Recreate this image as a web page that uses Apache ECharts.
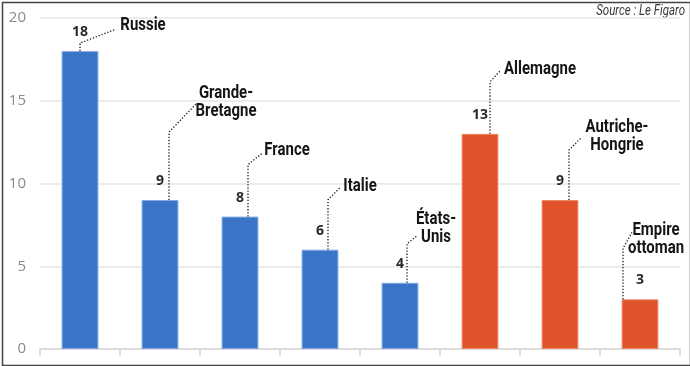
<!DOCTYPE html>
<html>
<head>
<meta charset="utf-8">
<script src="https://cdn.jsdelivr.net/npm/echarts@6/dist/echarts.min.js"></script>
<style>
html,body{margin:0;padding:0;background:#fff;}
#chart{width:690px;height:366px;}
</style>
</head>
<body>
<div id="chart"></div>
<script>
// ---- data ----
const categories = ['Russie', 'Grande-Bretagne', 'France', 'Italie', 'États-Unis', 'Allemagne', 'Autriche-Hongrie', 'Empire ottoman'];
const nameLabels = ['Russie', 'Grande-\nBretagne', 'France', 'Italie', 'États-\nUnis', 'Allemagne', 'Autriche-\nHongrie', 'Empire\nottoman'];
const values = [18, 9, 8, 6, 4, 13, 9, 3];
const camps = ['Entente', 'Entente', 'Entente', 'Entente', 'Entente', 'Centraux', 'Centraux', 'Centraux'];
const yTicks = [0, 5, 10, 15, 20];
const sourceText = 'Source : Le Figaro';

// ---- style / layout (annotation leader offsets relative to bar top, px) ----
const campColors = { Entente: '#3a74c8', Centraux: '#e0522b' };
const campBorders = { Entente: '#7fa9e0', Centraux: '#f08a66' };
// [lineDx, rise, endDx, endDy, labelDx, labelDy]
const leaders = [
  [0, 8, 36, -22, 63, -26],
  [9, 68, 36, -96, 66, -98],
  [8, 52, 23, -64, 47, -66],
  [8, 50, 20, -62, 40, -63],
  [7, 39, 17, -47, 36, -54],
  [10, 52, 21, -64, 60, -64],
  [9, 50, 21, -62, 57, -64],
  [-17, 51, -8, -67, 16, -60]
];
const NAME_FONT = 'bold 18px Roboto, "Noto Sans", sans-serif';
const NAME_SCALE = 0.83;

const chart = echarts.init(document.getElementById('chart'), null, { renderer: 'canvas' });

const barData = values.map((v, i) => ({
  value: v,
  itemStyle: { color: campColors[camps[i]], borderColor: campBorders[camps[i]], borderWidth: 1 }
}));
const annotData = values.map((v, i) => [i, v]);

chart.setOption({
  animation: false,
  backgroundColor: '#ffffff',
  grid: { left: 40, right: 10, top: 18, bottom: 17, containLabel: false },
  xAxis: {
    type: 'category',
    data: categories,
    boundaryGap: true,
    axisLine: { show: true, lineStyle: { color: '#d6d6d6', width: 1.5 } },
    axisTick: { show: true, interval: 0, length: 7, lineStyle: { color: '#d6d6d6', width: 1.5 } },
    axisLabel: { show: false, interval: 0 },
    splitLine: { show: false }
  },
  yAxis: {
    type: 'value',
    min: yTicks[0],
    max: yTicks[yTicks.length - 1],
    interval: yTicks[1] - yTicks[0],
    axisLine: { show: false },
    axisTick: { show: false },
    axisLabel: { color: '#8a8a8a', fontSize: 15, fontFamily: 'Open Sans', margin: 14 },
    splitLine: { show: true, lineStyle: { color: '#e6e6e6', width: 1.5 } }
  },
  series: [
    {
      type: 'bar',
      data: barData,
      barWidth: '46%',
      label: {
        show: true,
        position: 'top',
        distance: 12,
        color: '#2a2a2a',
        fontFamily: 'Open Sans',
        fontWeight: 'bold',
        fontSize: 14
      },
      z: 2
    },
    {
      type: 'custom',
      data: annotData,
      clip: false,
      z: 5,
      silent: true,
      renderItem: function (params, api) {
        const i = api.value(0);
        const v = api.value(1);
        const p = api.coord([i, v]);
        const L = leaders[i];
        const x0 = p[0] + L[0];
        const y0 = p[1];
        return {
          type: 'group',
          children: [
            {
              type: 'polyline',
              shape: { points: [[x0, y0], [x0, y0 - L[1]], [p[0] + L[2], y0 + L[3]]] },
              style: { stroke: '#1a1a1a', lineWidth: 1.3, lineDash: [1.3, 1.8], fill: null }
            },
            {
              type: 'text',
              x: p[0] + L[4],
              y: y0 + L[5],
              scaleX: NAME_SCALE,
              style: {
                text: nameLabels[i],
                x: 0,
                y: 0,
                align: 'center',
                verticalAlign: 'middle',
                font: NAME_FONT,
                lineHeight: 18,
                fill: '#151515'
              }
            }
          ]
        };
      }
    }
  ],
  graphic: [
    {
      type: 'text',
      x: 685,
      y: 11,
      scaleX: 0.82,
      style: {
        text: sourceText,
        x: 0,
        y: 0,
        align: 'right',
        verticalAlign: 'middle',
        font: 'italic 14px Roboto, sans-serif',
        fill: '#3a3a3a'
      }
    },
    {
      type: 'rect',
      left: 0,
      top: 0,
      shape: { x: 0, y: 0, width: 688, height: 363 },
      style: { fill: null, stroke: '#444', lineWidth: 1.5 },
      silent: true
    }
  ]
});
</script>
</body>
</html>
